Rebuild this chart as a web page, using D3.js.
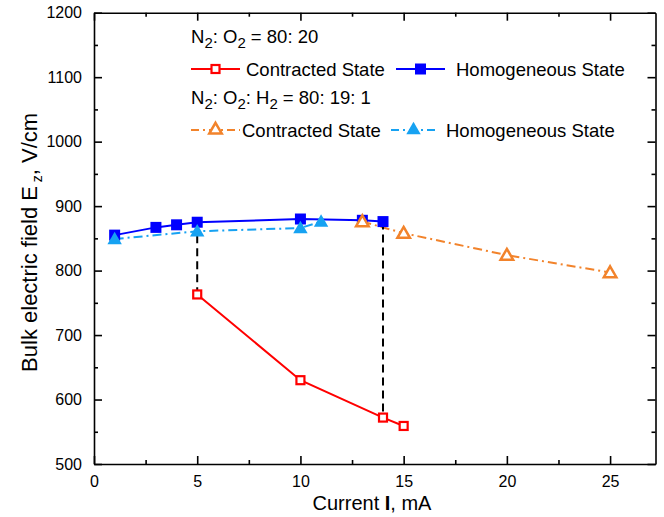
<!DOCTYPE html>
<html lang="en">

<head>
    <meta charset="UTF-8">
    <title>Bulk electric field</title>
    <style>
        body { margin: 0; background: #fff; }
        text { font-family: "Liberation Sans", Arial, sans-serif; }
    </style>
</head>

<body>
    <script src="https://d3js.org/d3.v7.min.js"></script>
    <script>

        const width = 664;
        const height = 517;

        // data
        const homoX = [1, 3, 4, 5, 10, 13, 14];
        const homoY = [855, 867, 871, 875, 880, 878, 876];
        const contrX = [5, 10, 14, 15];
        const contrY = [763, 630, 572, 559];
        const homoH2X = [1, 5, 10, 11];
        const homoH2Y = [849, 861, 866, 876];
        const contrH2X = [13, 15, 20, 25];
        const contrH2Y = [876, 858, 824, 797];
        // transition markers (dashed verticals)
        const dropX = [5, 14];
        const dropTop = [875, 876];
        const dropBottom = [763, 572];

        const xTicks = [0, 5, 10, 15, 20, 25];
        const xMinor = [2.5, 7.5, 12.5, 17.5, 22.5];
        const yTicks = [500, 600, 700, 800, 900, 1000, 1100, 1200];
        const yMinor = [550, 650, 750, 850, 950, 1050, 1150];

        const red = "#ff0000", blue = "#0000ff", orange = "#f2832b", cyan = "#16a2f2";

        const margin = { left: 94, right: 8.5, top: 12.7, bottom: 53 };

        const x = d3.scaleLinear().domain([0, 27.2]).range([margin.left, width - margin.right]);
        const y = d3.scaleLinear().domain([500, 1200]).range([height - margin.bottom, margin.top]);

        const svg = d3.select("body").append("svg")
            .attr("width", width)
            .attr("height", height);

        // axes (ticks point inwards on all four sides)
        function styleAxis(g) {
            g.selectAll("path, line").attr("stroke", "#000").attr("stroke-width", 1.6);
            g.selectAll("text").attr("font-size", 16).attr("fill", "#000")
                .attr("font-family", "'Liberation Sans', Arial, sans-serif");
        }

        const bottom = height - margin.bottom;
        const right = width - margin.right;

        svg.append("g").attr("transform", `translate(0,${bottom})`)
            .call(d3.axisBottom(x).tickValues(xTicks).tickSize(-8).tickSizeOuter(0).tickPadding(12))
            .call(styleAxis);
        svg.append("g").attr("transform", `translate(0,${bottom})`)
            .call(d3.axisBottom(x).tickValues(xMinor).tickSize(-4).tickFormat(""))
            .call(g => g.select(".domain").remove())
            .call(styleAxis);
        svg.append("g").attr("transform", `translate(0,${margin.top})`)
            .call(d3.axisTop(x).tickValues(xTicks).tickSize(-8).tickSizeOuter(0).tickFormat(""))
            .call(styleAxis);
        svg.append("g").attr("transform", `translate(0,${margin.top})`)
            .call(d3.axisTop(x).tickValues(xMinor).tickSize(-4).tickFormat(""))
            .call(g => g.select(".domain").remove())
            .call(styleAxis);

        svg.append("g").attr("transform", `translate(${margin.left},0)`)
            .call(d3.axisLeft(y).tickValues(yTicks).tickSize(-8).tickSizeOuter(0).tickPadding(12).tickFormat(d3.format("d")))
            .call(styleAxis);
        svg.append("g").attr("transform", `translate(${margin.left},0)`)
            .call(d3.axisLeft(y).tickValues(yMinor).tickSize(-4).tickFormat(""))
            .call(g => g.select(".domain").remove())
            .call(styleAxis);
        svg.append("g").attr("transform", `translate(${right},0)`)
            .call(d3.axisRight(y).tickValues(yTicks).tickSize(-8).tickSizeOuter(0).tickFormat(""))
            .call(styleAxis);
        svg.append("g").attr("transform", `translate(${right},0)`)
            .call(d3.axisRight(y).tickValues(yMinor).tickSize(-4).tickFormat(""))
            .call(g => g.select(".domain").remove())
            .call(styleAxis);

        // axis titles
        const xTitle = svg.append("text")
            .attr("x", 372).attr("y", 510)
            .attr("text-anchor", "middle")
            .attr("font-size", 20);
        xTitle.append("tspan").text("Current ");
        xTitle.append("tspan").attr("font-weight", "bold").text("I");
        xTitle.append("tspan").text(", mA");

        const yTitle = svg.append("text")
            .attr("transform", `translate(37,${(margin.top + bottom) / 2 + 4}) rotate(-90)`)
            .attr("text-anchor", "middle")
            .attr("font-size", 22);
        yTitle.append("tspan").text("Bulk electric field E");
        yTitle.append("tspan").attr("font-size", 14).attr("dy", 5).text(" z");
        yTitle.append("tspan").attr("dy", -5).text(", V/cm");

        // helpers
        const line = d3.line().x(d => x(d[0])).y(d => y(d[1]));
        const zip = (xs, ys) => xs.map((v, i) => [v, ys[i]]);
        const tri = d3.symbol().type(d3.symbolTriangle);
        const dashDot = "9,4,2,4";

        function drawLine(pts, color, dash) {
            svg.append("path")
                .datum(pts)
                .attr("fill", "none")
                .attr("stroke", color)
                .attr("stroke-width", 2)
                .attr("stroke-dasharray", dash)
                .attr("d", line);
        }

        const homo = zip(homoX, homoY);
        const contr = zip(contrX, contrY);
        const homoH2 = zip(homoH2X, homoH2Y);
        const contrH2 = zip(contrH2X, contrH2Y);

        drawLine(homo, blue, null);
        drawLine(contr, red, null);
        drawLine(homoH2, cyan, dashDot);
        drawLine(contrH2, orange, dashDot);

        // dashed transitions
        svg.append("g")
            .selectAll("line")
            .data(dropX)
            .join("line")
            .attr("x1", d => x(d)).attr("x2", d => x(d))
            .attr("y1", (d, i) => y(dropTop[i]))
            .attr("y2", (d, i) => y(dropBottom[i]))
            .attr("stroke", "#000")
            .attr("stroke-width", 2)
            .attr("stroke-dasharray", "8,5");

        // markers
        function squares(pts, size, fill, stroke, sw) {
            svg.append("g")
                .selectAll("rect")
                .data(pts)
                .join("rect")
                .attr("x", d => x(d[0]) - size / 2)
                .attr("y", d => y(d[1]) - size / 2)
                .attr("width", size).attr("height", size)
                .attr("fill", fill)
                .attr("stroke", stroke)
                .attr("stroke-width", sw);
        }
        function triangles(pts, area, fill, stroke, sw) {
            svg.append("g")
                .selectAll("path")
                .data(pts)
                .join("path")
                .attr("transform", d => `translate(${x(d[0])},${y(d[1]) + 1})`)
                .attr("d", tri.size(area)())
                .attr("fill", fill)
                .attr("stroke", stroke)
                .attr("stroke-width", sw)
                .attr("stroke-linejoin", "miter");
        }

        squares(homo, 11, blue, "none", 0);
        squares(contr, 8, "#fff", red, 2.2);
        triangles(homoH2, 90, cyan, "none", 0);
        triangles(contrH2, 68, "#fff", orange, 2.5);

        // legend
        const legend = svg.append("g").attr("font-size", 18.5);

        // header text with subscripted digits
        function header(yPos, parts) {
            const t = legend.append("text").attr("x", 191).attr("y", yPos);
            let shift = 0;
            parts.forEach(p => {
                const target = p.sub ? 5 : 0;
                t.append("tspan")
                    .attr("dy", target - shift)
                    .attr("font-size", p.sub ? 15 : null)
                    .text(p.s);
                shift = target;
            });
        }
        header(43, [{ s: "N" }, { s: "2", sub: true }, { s: ": O" }, { s: "2", sub: true }, { s: " = 80: 20" }]);
        header(104, [{ s: "N" }, { s: "2", sub: true }, { s: ": O" }, { s: "2", sub: true },
            { s: ": H" }, { s: "2", sub: true }, { s: " = 80: 19: 1" }]);

        function legendItem(x1, x2, yPos, textX, label, color, dash, marker) {
            legend.append("line")
                .attr("x1", x1).attr("x2", x2)
                .attr("y1", yPos).attr("y2", yPos)
                .attr("stroke", color).attr("stroke-width", 2)
                .attr("stroke-dasharray", dash);
            marker((x1 + x2) / 2, yPos);
            legend.append("text").attr("x", textX).attr("y", yPos + 6.5).text(label);
        }
        const legSquare = (size, fill, stroke, sw) => (cx, cy) => legend.append("rect")
            .attr("x", cx - size / 2).attr("y", cy - size / 2)
            .attr("width", size).attr("height", size)
            .attr("fill", fill).attr("stroke", stroke).attr("stroke-width", sw);
        const legTri = (area, fill, stroke, sw) => (cx, cy) => legend.append("path")
            .attr("transform", `translate(${cx},${cy})`)
            .attr("d", tri.size(area)())
            .attr("fill", fill).attr("stroke", stroke).attr("stroke-width", sw);

        legendItem(191, 240, 69, 246, "Contracted State", red, null, legSquare(8, "#fff", red, 2.2));
        legendItem(396, 445, 69, 456, "Homogeneous State", blue, null, legSquare(11, blue, "none", 0));
        legendItem(191, 240, 130, 242, "Contracted State", orange, "8,4,2,4", legTri(68, "#fff", orange, 2.5));
        legendItem(391, 436, 130, 446, "Homogeneous State", cyan, "8,4,2,4", legTri(90, cyan, "none", 0));

    </script>
</body>

</html>
